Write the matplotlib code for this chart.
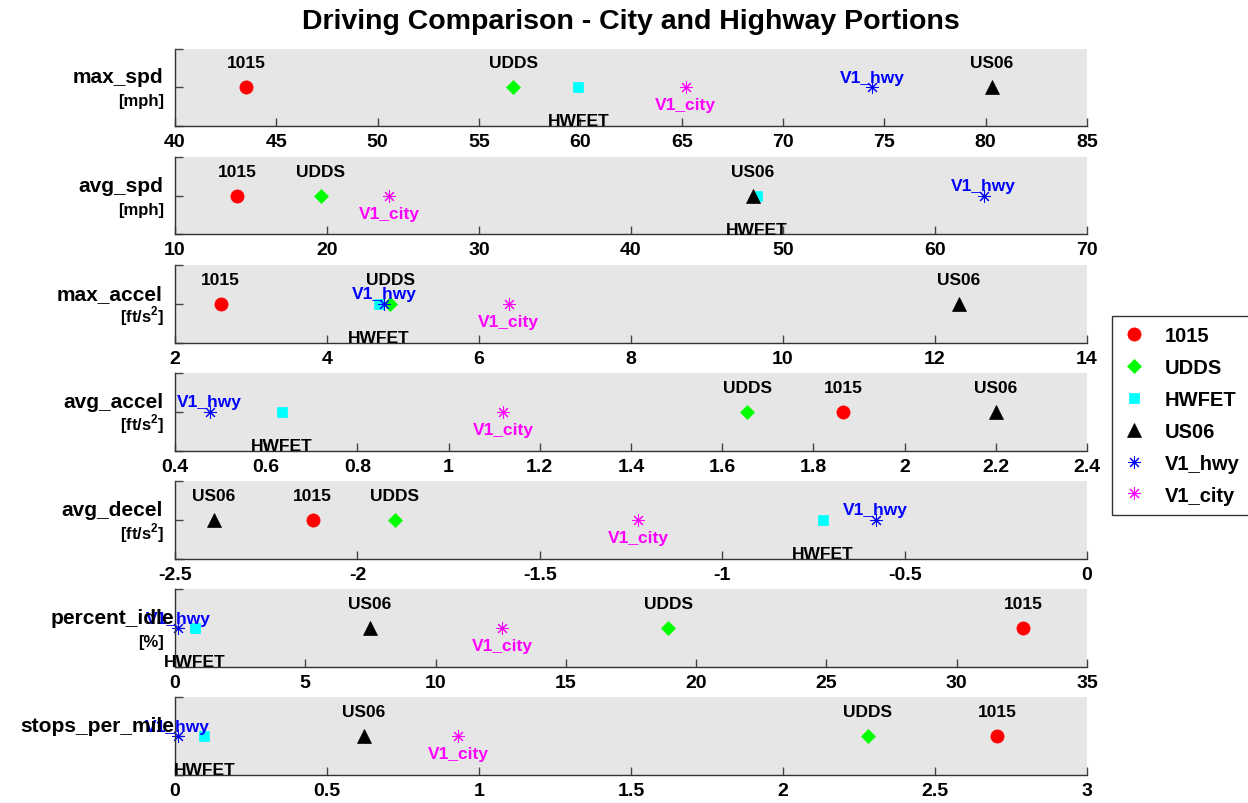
import numpy as np
import matplotlib.pyplot as plt
from matplotlib.ticker import MultipleLocator, FuncFormatter
from matplotlib.lines import Line2D

plt.rcParams['font.family'] = ['Liberation Sans', 'DejaVu Sans']
plt.rcParams['font.weight'] = 'bold'
plt.rcParams['mathtext.fontset'] = 'custom'
plt.rcParams['mathtext.rm'] = 'Liberation Sans:bold'
plt.rcParams['mathtext.bf'] = 'Liberation Sans:bold'

# drive cycles (one marker per cycle in each panel)
cycles = ['1015', 'UDDS', 'HWFET', 'US06', 'V1_hwy', 'V1_city']

# metrics, top to bottom
metrics = ['max_spd', 'avg_spd', 'max_accel', 'avg_accel', 'avg_decel',
           'percent_idle', 'stops_per_mile']
units = ['[mph]', '[mph]', r'[ft/s$^{\mathbf{2}}$]', r'[ft/s$^{\mathbf{2}}$]',
         r'[ft/s$^{\mathbf{2}}$]', '[%]', '']

# values, ordered like cycles
max_spd = [43.5, 56.7, 59.9, 80.3, 74.4, 65.2]
avg_spd = [14.1, 19.6, 48.3, 48.0, 63.2, 24.1]
max_accel = [2.60, 4.83, 4.68, 12.31, 4.75, 6.39]
avg_accel = [1.866, 1.655, 0.634, 2.20, 0.476, 1.120]
avg_decel = [-2.123, -1.898, -0.725, -2.394, -0.579, -1.231]
percent_idle = [32.55, 18.92, 0.77, 7.48, 0.11, 12.55]
stops_per_mile = [2.704, 2.279, 0.097, 0.622, 0.009, 0.932]
values = [max_spd, avg_spd, max_accel, avg_accel, avg_decel,
          percent_idle, stops_per_mile]

# axis ranges and tick steps
x_limits = [(40, 85), (10, 70), (2, 14), (0.4, 2.4), (-2.5, 0), (0, 35), (0, 3)]
x_steps = [5, 10, 2, 0.2, 0.5, 5, 0.5]

# marker styles per cycle
star = (8, 2, 0)
styles = {
    '1015':    dict(marker='o', color='#ff0000', ms=9.5),
    'UDDS':    dict(marker='D', color='#00ff00', ms=7.5),
    'HWFET':   dict(marker='s', color='#00ffff', ms=7.5),
    'US06':    dict(marker='^', color='black', ms=10),
    'V1_hwy':  dict(marker=star, color='#0000ff', ms=9, mew=0.75),
    'V1_city': dict(marker=star, color='#ff00ff', ms=9, mew=0.75),
}
# text label colour and baseline offset from marker (pixels, up positive)
label_color = {'1015': 'black', 'UDDS': 'black', 'HWFET': 'black',
               'US06': 'black', 'V1_hwy': '#0000ff', 'V1_city': '#ff00ff'}
label_dy = {'1015': 20, 'UDDS': 20, 'HWFET': -38, 'US06': 20,
            'V1_hwy': 5.5, 'V1_city': -22}

W, H = 1248, 804
fig = plt.figure(figsize=(W / 100, H / 100), dpi=100)

ax_left, ax_right = 175, 1087
ax_h = 77.8
tops = [49.5 + 108.15 * i for i in range(len(metrics))]
# right edge of the row labels (pixels)
name_right = [163, 163, 163, 163, 163, 174, 174]

px = 0.72  # points per pixel at 100 dpi

for i, metric in enumerate(metrics):
    top = tops[i]
    ax = fig.add_axes([ax_left / W, 1 - (top + ax_h) / H,
                       (ax_right - ax_left) / W, ax_h / H])
    ax.set_facecolor('#e6e6e6')
    for s in ['top', 'right']:
        ax.spines[s].set_visible(False)
    for s in ['left', 'bottom']:
        ax.spines[s].set_color('#333333')
        ax.spines[s].set_linewidth(1.0)

    vals = values[i]
    for name, v in zip(cycles, vals):
        st = styles[name]
        ax.plot([v], [0.5], linestyle='none', marker=st['marker'],
                color=st['color'], markersize=st['ms'],
                markeredgewidth=st.get('mew', 0.5), clip_on=False)
    for name, v in zip(cycles, vals):
        ax.annotate(name, (v, 0.5), xytext=(0, label_dy[name] * px),
                    textcoords='offset points', ha='center', va='baseline',
                    fontsize=12.5, fontweight='bold', color=label_color[name],
                    annotation_clip=False)

    ax.set_xlim(*x_limits[i])
    ax.set_ylim(0, 1)
    ax.xaxis.set_major_locator(MultipleLocator(x_steps[i]))
    ax.xaxis.set_major_formatter(FuncFormatter(lambda x, p: f'{x:g}'))
    ax.set_yticks([0, 0.5, 1])
    ax.set_yticklabels([])
    ax.tick_params(axis='both', direction='in', length=6, width=1.0,
                   color='#444444')
    ax.tick_params(axis='x', labelsize=14, pad=5)
    for t in ax.get_xticklabels():
        t.set_fontweight('bold')

    cy = top + ax_h / 2
    fig.text(name_right[i] / W, 1 - (cy - 5) / H, metric, ha='right',
             va='baseline', fontsize=15, fontweight='bold')
    if units[i]:
        fig.text(164 / W, 1 - (cy + 18) / H, units[i], ha='right',
                 va='baseline', fontsize=12, fontweight='bold')

fig.text((ax_left + ax_right) / 2 / W, 1 - 22 / H,
         'Driving Comparison - City and Highway Portions',
         ha='center', va='center', fontsize=20.5, fontweight='bold')

handles = []
for name in cycles:
    st = styles[name]
    handles.append(Line2D([], [], linestyle='none', marker=st['marker'],
                          color=st['color'], markersize=st['ms'],
                          markeredgewidth=st.get('mew', 0.5), label=name))
leg = fig.legend(handles=handles, loc='upper left',
                 bbox_to_anchor=(1112 / W, 1 - 317 / H),
                 prop=dict(family=['Liberation Sans'], weight='bold', size=14.5),
                 frameon=True, fancybox=False, edgecolor='black',
                 handlelength=1.2, handletextpad=0.9, labelspacing=0.64,
                 borderpad=0.5, borderaxespad=0)
leg.get_frame().set_linewidth(1.0)

fig.savefig('out.png', dpi=100)
